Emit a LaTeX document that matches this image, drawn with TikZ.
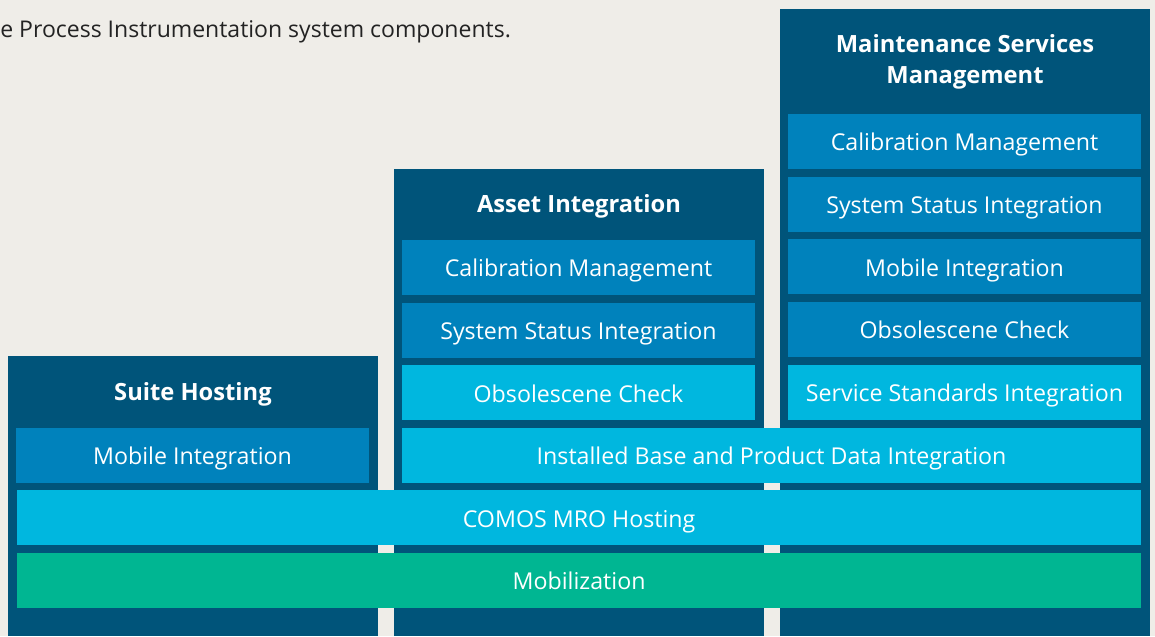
\documentclass[tikz,border=0pt]{standalone}
\usepackage{fontspec}
\setmainfont{Open Sans}
\usetikzlibrary{positioning}
\definecolor{Paper}{RGB}{239,237,232}
\definecolor{Ink}{RGB}{35,35,35}
\definecolor{Navy}{RGB}{0,84,122}
\definecolor{MidBlue}{RGB}{0,130,188}
\definecolor{Sky}{RGB}{0,183,223}
\definecolor{Teal}{RGB}{0,182,146}
\tikzset{
  colbox/.style={rectangle,fill=Navy,anchor=north,minimum width=7.4cm,inner sep=0pt,outer sep=0pt},
  mbox/.style={rectangle,fill=MidBlue,text=white,font=\fontsize{13.2}{16}\selectfont,
               minimum width=7.06cm,minimum height=1.1cm,inner sep=0pt,outer sep=0pt,
               text height=10.5pt,text depth=0pt},
  lbox/.style={mbox,fill=Sky},
  gbox/.style={mbox,fill=Teal},
  ttl/.style={text=white,font=\bfseries\fontsize{13.5}{17.4}\selectfont,align=center,
              anchor=base,inner sep=0pt},
}
\begin{document}
\begin{tikzpicture}[x=0.02cm,y=-0.02cm]
  \fill[Paper] (0,0) rectangle (1155,636);
  \useasboundingbox (0,0) rectangle (1155,636);
  \node[anchor=base west,inner sep=0pt,text=Ink,font=\fontsize{13.1}{16}\selectfont] (intro) at (0,37)
    {e Process Instrumentation system components.};
  % the three columns
  \node[colbox,minimum height=5.6cm] (suite) at (193,356) {};
  \node[colbox,minimum height=9.34cm] (asset) at (579,169) {};
  \node[colbox,minimum height=12.54cm] (maint) at (965,9) {};
  \node[ttl] (suiteT) at (193,400) {Suite Hosting};
  \node[ttl] (assetT) at (579,212.3) {Asset Integration};
  \node[ttl] (maintT) at (965,83.3) {Maintenance Services\\Management};
  % Maintenance Services Management
  \node[mbox] (cal3) at (964.5,141.5) {Calibration Management};
  \node[mbox,below=0.155cm of cal3] (sys3) {System Status Integration};
  \node[mbox,below=0.155cm of sys3] (mob3) {Mobile Integration};
  \node[mbox,below=0.155cm of mob3] (obs3) {Obsolescene Check};
  \node[lbox,below=0.155cm of obs3] (svc3) {Service Standards Integration};
  % Asset Integration
  \node[mbox] (cal2) at (578.5,267.5) {Calibration Management};
  \node[mbox,below=0.155cm of cal2] (sys2) {System Status Integration};
  \node[lbox,below=0.155cm of sys2] (obs2) {Obsolescene Check};
  % Suite Hosting
  \node[mbox] (mob1) at (192.5,455) {Mobile Integration};
  % shared layers
  \node[lbox,minimum width=14.78cm,anchor=north east] (ibase) at ([yshift=-0.155cm]svc3.south east)
    {Installed Base and Product Data Integration};
  \node[lbox,minimum width=22.48cm,anchor=north east] (comos) at ([yshift=-0.155cm]ibase.south east)
    {COMOS MRO Hosting};
  \node[gbox,minimum width=22.48cm,anchor=north east] (mobil) at ([yshift=-0.155cm]comos.south east)
    {Mobilization};
\end{tikzpicture}
\end{document}
